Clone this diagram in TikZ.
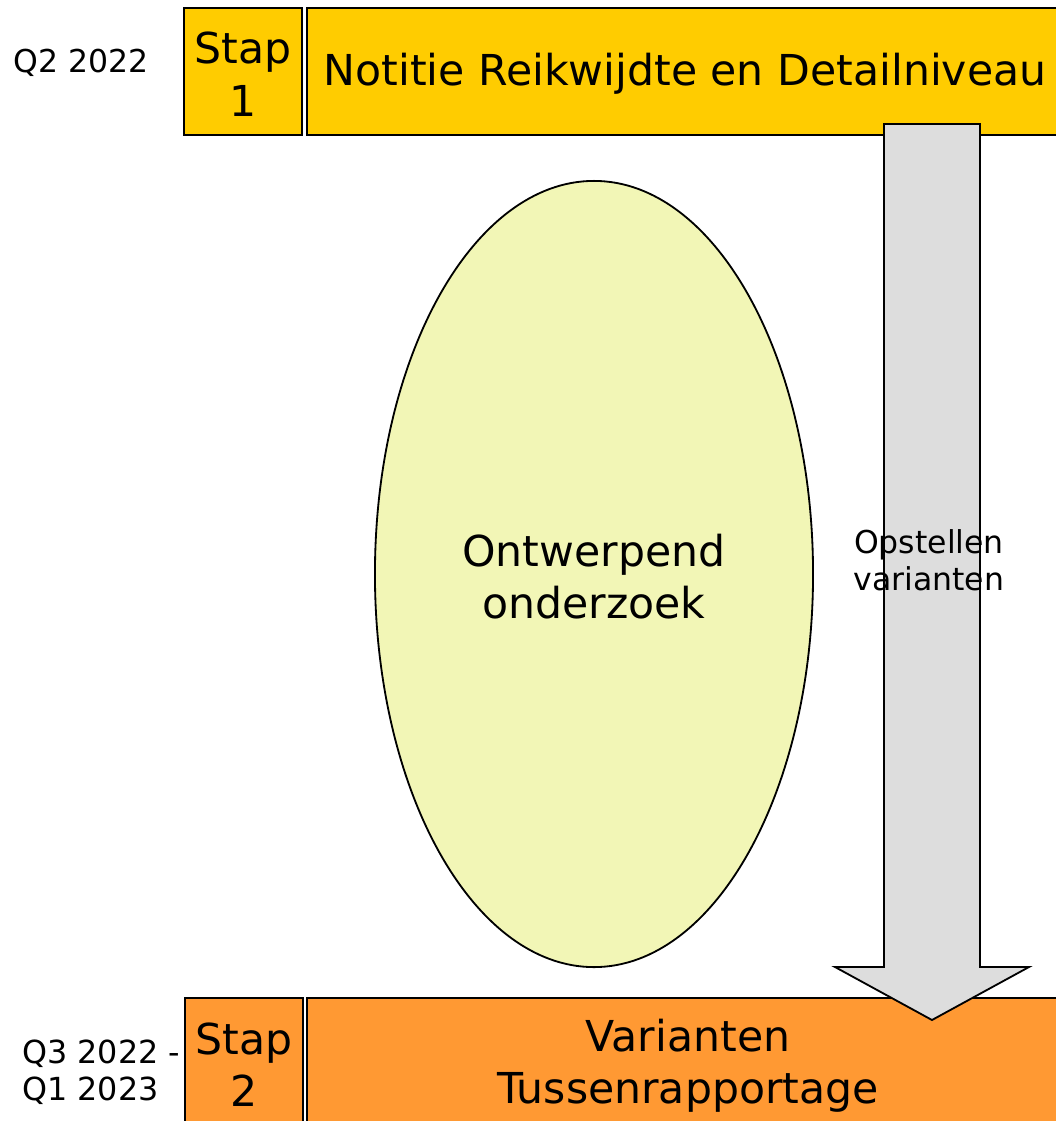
\documentclass[tikz,border=0pt]{standalone}
\usepackage{fontspec}
\setmainfont{DejaVu Sans}
\usetikzlibrary{shapes.geometric}
\definecolor{stapyellow}{HTML}{FFCC00}
\definecolor{staporange}{HTML}{FF9933}
\definecolor{ellfill}{HTML}{F2F6B6}
\definecolor{arrowfill}{HTML}{DDDDDD}
\begin{document}
\begin{tikzpicture}[x=0.025cm,y=-0.025cm,
  bigtext/.style={font=\fontsize{30.3}{37}\selectfont},
  smalltext/.style={font=\fontsize{22.4}{26.5}\selectfont},
  box/.style={draw=black,line width=1.3pt,inner sep=0pt,align=center,bigtext},
  stapbox/.style={box,minimum width=2.95cm},
]
\useasboundingbox (0,0) rectangle (1056,1121);
% top row
\node[stapbox,fill=stapyellow,minimum height=3.175cm] (s1) at (243,71.5) {};
\node[bigtext,align=center,inner sep=0pt] (s1t) at (243,74) {Stap\\[1pt]1};
\node[box,fill=stapyellow,minimum width=18.925cm,minimum height=3.175cm] (n1) at (685.5,71.5) {};
\node[bigtext,inner sep=0pt] (n1t) at (685,74) {Notitie Reikwijdte en Detailniveau};
% bottom row
\node[stapbox,fill=staporange,minimum height=3.3cm] (s2) at (244,1064) {};
\node[bigtext,align=center,inner sep=0pt] (s2t) at (244,1065) {Stap\\2};
\node[box,fill=staporange,minimum width=18.925cm,minimum height=3.3cm] (n2) at (685.5,1064) {};
\node[bigtext,align=center,inner sep=0pt] (n2t) at (688,1066) {Varianten\\Tussenrapportage};
% ellipse
\node[ellipse,draw=black,line width=1.3pt,fill=ellfill,minimum width=10.95cm,minimum height=19.65cm,inner sep=0pt,align=center,bigtext] (ell) at (594,574) {};
\node[bigtext,align=center,inner sep=0pt] (ellt) at (594,577) {Ontwerpend\\onderzoek};
% arrow
\coordinate (atop) at (932,124);
\coordinate (atip) at (932,1020);
\draw[line width=1.3pt,fill=arrowfill,line join=miter]
  (884,124) -- (980,124) -- (980,967) -- (1029,967) -- (atip) -- (835,967) -- (884,967) -- cycle;
\node[smalltext,align=center,inner sep=0pt] (opst) at (929,560) {Opstellen\\varianten};
% date labels
\node[smalltext,inner sep=0pt] (q2) at (81,63) {Q2 2022};
\node[inner sep=0pt,align=left,anchor=west,font=\fontsize{22.6}{26.5}\selectfont] (q3) at (22,1072) {Q3 2022 -\\Q1 2023};
\end{tikzpicture}
\end{document}
